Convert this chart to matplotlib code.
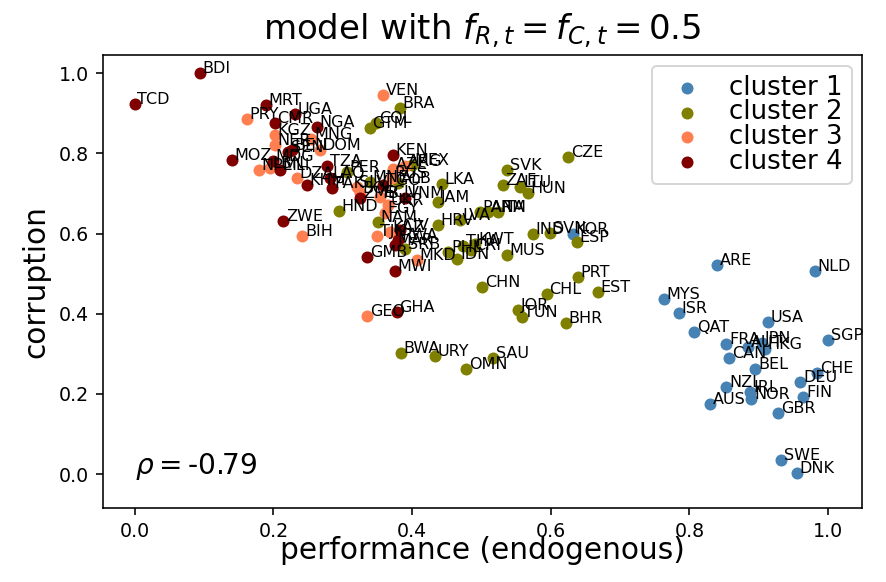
import matplotlib
matplotlib.use("Agg")
import matplotlib.pyplot as plt
import numpy as np

# ---- data ----
c1_codes = ["ARE", "NLD", "MYS", "ISR", "QAT", "USA", "SGP", "FRA", "JPN", "AUT", "HKG", "CAN",
            "BEL", "CHE", "DEU", "NZL", "IRL", "NOR", "FIN", "AUS", "GBR", "SWE", "DNK", "KOR"]
c1_perf = [0.840, 0.981, 0.763, 0.785, 0.807, 0.913, 1.000, 0.853, 0.905, 0.885, 0.909, 0.857,
           0.895, 0.984, 0.960, 0.853, 0.888, 0.889, 0.964, 0.830, 0.928, 0.932, 0.955, 0.632]
c1_corr = [0.521, 0.506, 0.436, 0.401, 0.354, 0.379, 0.334, 0.324, 0.327, 0.317, 0.312, 0.289,
           0.262, 0.252, 0.229, 0.217, 0.205, 0.187, 0.192, 0.175, 0.152, 0.035, 0.002, 0.598]

c2_codes = ["BRA", "COL", "GTM", "CZE", "SVK", "ZAF", "LTU", "HUN", "LKA", "JAM", "HND", "LVA",
            "PAN", "ARM", "ITA", "NAM", "HRV", "IND", "SVN", "ESP", "KWT", "THA", "CRI", "IDN",
            "PHL", "MUS", "CHN", "PRT", "CHL", "EST", "JOR", "TUN", "BHR", "BWA", "URY", "OMN",
            "SAU", "PER", "ALB", "MEX", "MNE", "SRB"]
c2_perf = [0.382, 0.348, 0.339, 0.625, 0.537, 0.531, 0.556, 0.567, 0.443, 0.437, 0.294, 0.469,
           0.498, 0.510, 0.524, 0.351, 0.437, 0.574, 0.599, 0.638, 0.491, 0.474, 0.485, 0.465,
           0.452, 0.537, 0.501, 0.639, 0.594, 0.668, 0.553, 0.558, 0.622, 0.384, 0.433, 0.478,
           0.517, 0.306, 0.380, 0.400, 0.339, 0.390]
c2_corr = [0.913, 0.875, 0.863, 0.790, 0.758, 0.721, 0.716, 0.701, 0.723, 0.678, 0.656, 0.633,
           0.653, 0.655, 0.653, 0.628, 0.621, 0.598, 0.601, 0.579, 0.574, 0.569, 0.560, 0.536,
           0.553, 0.546, 0.466, 0.491, 0.449, 0.454, 0.409, 0.392, 0.377, 0.302, 0.294, 0.262,
           0.289, 0.753, 0.727, 0.771, 0.728, 0.561]

c3_codes = ["VEN", "PRY", "KGZ", "NER", "MNG", "DOM", "NPL", "DZA", "SLV", "BOL", "AZE", "RUS",
            "ECU", "UKR", "EGY", "ARG", "TJK", "BIH", "MKD", "GEO", "LBN", "KAZ"]
c3_perf = [0.358, 0.162, 0.202, 0.202, 0.255, 0.267, 0.179, 0.234, 0.320, 0.325, 0.372, 0.371,
           0.354, 0.365, 0.361, 0.390, 0.350, 0.242, 0.407, 0.335, 0.195, 0.368]
c3_corr = [0.945, 0.885, 0.845, 0.820, 0.835, 0.808, 0.758, 0.738, 0.716, 0.701, 0.760, 0.738,
           0.691, 0.671, 0.651, 0.768, 0.594, 0.594, 0.534, 0.394, 0.763, 0.603]

c4_codes = ["BDI", "TCD", "MRT", "CMR", "UGA", "NGA", "BEN", "MOZ", "MDG", "MLI", "TZA", "KHM",
            "PAK", "ZMB", "VNM", "KEN", "ZWE", "RWA", "MAR", "GMB", "MWI", "GHA", "SEN", "LAO",
            "TGO", "CIV"]
c4_perf = [0.094, 0.000, 0.189, 0.202, 0.231, 0.263, 0.227, 0.140, 0.199, 0.209, 0.277, 0.248,
           0.284, 0.325, 0.390, 0.372, 0.214, 0.380, 0.375, 0.335, 0.375, 0.378, 0.221, 0.281,
           0.358, 0.382]
c4_corr = [1.000, 0.923, 0.920, 0.875, 0.898, 0.865, 0.808, 0.783, 0.781, 0.758, 0.768, 0.721,
           0.713, 0.688, 0.688, 0.796, 0.631, 0.584, 0.571, 0.541, 0.506, 0.404, 0.803, 0.738,
           0.721, 0.608]

cluster_labels = ["cluster 1", "cluster 2", "cluster 3", "cluster 4"]
cluster_colors = ["#4682B4", "#808000", "#FF7F50", "#800000"]
rho = -0.79

# ---- plot ----
fig = plt.figure(figsize=(886 / 144, 582 / 144), dpi=144)
ax = fig.add_axes([0.116, 0.127, 0.857, 0.778])

groups = [(c1_codes, c1_perf, c1_corr), (c2_codes, c2_perf, c2_corr),
          (c3_codes, c3_perf, c3_corr), (c4_codes, c4_perf, c4_corr)]

for (codes, px, py), lab, col in zip(groups, cluster_labels, cluster_colors):
    ax.scatter(px, py, s=36, color=col, label=lab, zorder=2, linewidths=0)

for codes, px, py in groups:
    for c, x, y in zip(codes, px, py):
        ax.text(x + 0.004, y, c, fontsize=8, zorder=3)

ax.text(0.0, 0.0, r"$\rho=$" + f"{rho:.2f}", fontsize=14)

ax.set_xlim(-0.046, 1.049)
ax.set_ylim(-0.085, 1.045)
ax.set_xticks([0.0, 0.2, 0.4, 0.6, 0.8, 1.0])
ax.set_yticks([0.0, 0.2, 0.4, 0.6, 0.8, 1.0])
ax.tick_params(labelsize=9.5)
ax.set_xlabel("performance (endogenous)", fontsize=14.8, labelpad=-2.5)
ax.set_ylabel("corruption", fontsize=14.8, labelpad=4)
ax.set_title(r"model with $f_{R,t} = f_{C,t} = 0.5$", fontsize=17, pad=8)
ax.legend(loc="upper right", fontsize=13, handletextpad=0.6, borderpad=0.35,
          labelspacing=-0.05, handlelength=2.0, borderaxespad=0.4)

fig.savefig("out.png", dpi=144)
